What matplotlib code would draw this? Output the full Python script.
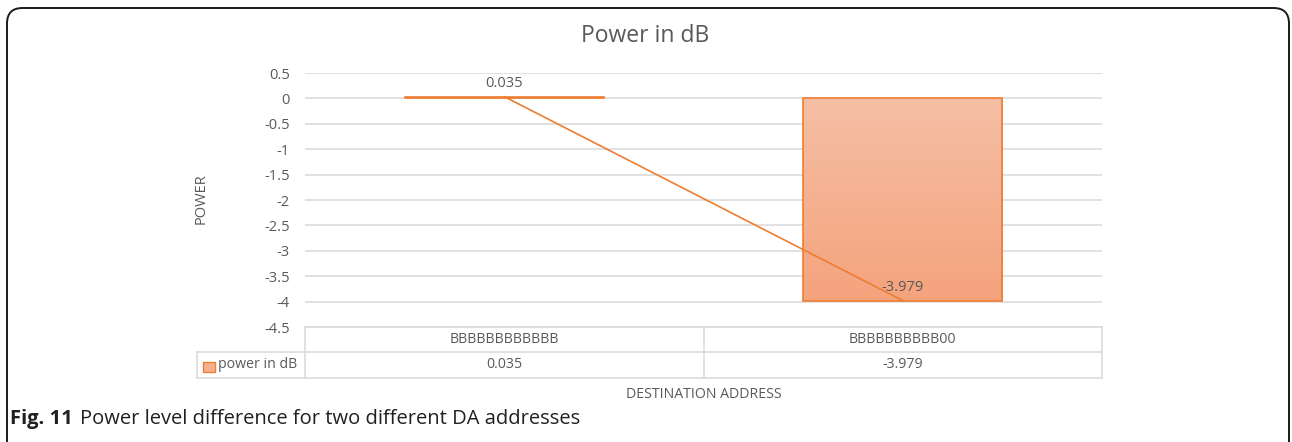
#!/usr/bin/env python3

import numpy as np
import matplotlib
matplotlib.use('Agg')
import matplotlib.pyplot as plt
from matplotlib.patches import FancyBboxPatch, Rectangle
from matplotlib.lines import Line2D
from matplotlib.colors import LinearSegmentedColormap
import matplotlib.transforms as mtransforms

categories = ['BBBBBBBBBBBB', 'BBBBBBBBBB00']
power_db = [0.035, -3.979]
value_labels = ['0.035', '-3.979']
series_name = 'power in dB'
y_ticks = [0.5, 0, -0.5, -1, -1.5, -2, -2.5, -3, -3.5, -4, -4.5]

W, H = 1292, 442
GRAY = '#595959'
GRID = '#D9D9D9'
ORANGE = '#ED7D31'

plt.rcParams['font.family'] = ['Open Sans', 'DejaVu Sans']


def fx(px):
	return px / W


def fy(py):
	return 1 - py / H


def main():
	fig = plt.figure(figsize=(W / 100, H / 100), dpi=100)
	fig.patch.set_facecolor('white')

	# rounded outer frame (open at the bottom)
	frame = FancyBboxPatch((fx(7), fy(470)), fx(1282), fy(8) - fy(470),
		boxstyle='round,pad=0,rounding_size=0.012', transform=fig.transFigure,
		facecolor='none', edgecolor='#1a1a1a', linewidth=1.4, mutation_aspect=W / H)
	fig.patches.append(frame)

	ax = fig.add_axes([fx(305), fy(327), fx(1102) - fx(305), fy(73) - fy(327)])
	ax.set_xlim(-0.5, 1.5)
	ax.set_ylim(-4.5, 0.5)
	ax.set_yticks(y_ticks)
	ax.set_yticklabels([('%g' % t) for t in y_ticks])
	ax.set_xticks([])
	ax.tick_params(axis='y', length=0, labelsize=10.5, labelcolor=GRAY, pad=11)
	for s in ax.spines.values():
		s.set_visible(False)
	for t in y_ticks:
		ax.axhline(t, color=GRID, lw=1.1, zorder=0)

	x = np.arange(len(categories))
	bars = ax.bar(x, power_db, width=0.5, facecolor='none', edgecolor=ORANGE,
		linewidth=1.2, zorder=3)
	cmap = LinearSegmentedColormap.from_list('g', ['#F4A37D', '#F5BFA5'])
	grad = np.linspace(0, 1, 256).reshape(-1, 1)
	for b in bars:
		x0, y0 = b.get_x(), b.get_y()
		w, h = b.get_width(), b.get_height()
		lo, hi = min(y0, y0 + h), max(y0, y0 + h)
		im = ax.imshow(grad, cmap=cmap, aspect='auto', origin='lower',
			extent=[x0, x0 + w, lo, hi], zorder=2)
		im.set_clip_path(b)
	ax.set_xlim(-0.5, 1.5)
	ax.set_ylim(-4.5, 0.5)

	ax.plot(x, power_db, color=ORANGE, lw=1.2, zorder=4)
	for xi, v, lab in zip(x, power_db, value_labels):
		ax.annotate(lab, (xi, v), xytext=(0, 4), textcoords='offset points',
			ha='center', va='bottom', fontsize=10.5, color=GRAY, zorder=5)

	fig.text(fx(645), fy(36), 'Power in dB', ha='center', va='center',
		fontsize=16.5, color=GRAY)
	fig.text(fx(201), fy(199), 'POWER', rotation=90, ha='center', va='center',
		fontsize=10.5, color=GRAY)

	# data table below the axis
	ft = fig.transFigure
	tr = mtransforms.blended_transform_factory(ax.transData, ft)
	rows = [fy(327), fy(352), fy(378)]
	lines = [
		((fx(305), fx(1102)), (rows[0], rows[0])),
		((fx(197), fx(1102)), (rows[1], rows[1])),
		((fx(197), fx(1102)), (rows[2], rows[2])),
		((fx(305), fx(305)), (rows[0], rows[2])),
		((fx(704), fx(704)), (rows[0], rows[2])),
		((fx(1102), fx(1102)), (rows[0], rows[2])),
		((fx(197), fx(197)), (rows[1], rows[2])),
	]
	for xs, ys in lines:
		fig.add_artist(Line2D(xs, ys, transform=ft, color=GRID, lw=1.1))
	ymid1 = (rows[0] + rows[1]) / 2
	ymid2 = (rows[1] + rows[2]) / 2
	for xi, cat, lab in zip(x, categories, value_labels):
		fig.text(xi, ymid1, cat, transform=tr, ha='center', va='center',
			fontsize=10.2, color=GRAY)
		fig.text(xi, ymid2, lab, transform=tr, ha='center', va='center',
			fontsize=10.2, color=GRAY)
	fig.add_artist(Rectangle((fx(203), fy(372)), fx(12), fy(362) - fy(372),
		transform=ft, facecolor='#F5B08F', edgecolor=ORANGE, lw=1))
	fig.text(fx(218), ymid2, series_name, ha='left', va='center',
		fontsize=10.2, color=GRAY)

	fig.text(fx(704), fy(394), 'DESTINATION ADDRESS', ha='center', va='center',
		fontsize=10.2, color=GRAY)

	fig.text(fx(10), fy(419), 'Fig. 11', ha='left', va='center', fontsize=14.5,
		fontweight='bold', color='#231F20')
	fig.text(fx(80), fy(419), 'Power level difference for two different DA addresses',
		ha='left', va='center', fontsize=14.5, color='#231F20')

	fig.savefig('out.png', dpi=100)


if __name__ == '__main__':
	main()
